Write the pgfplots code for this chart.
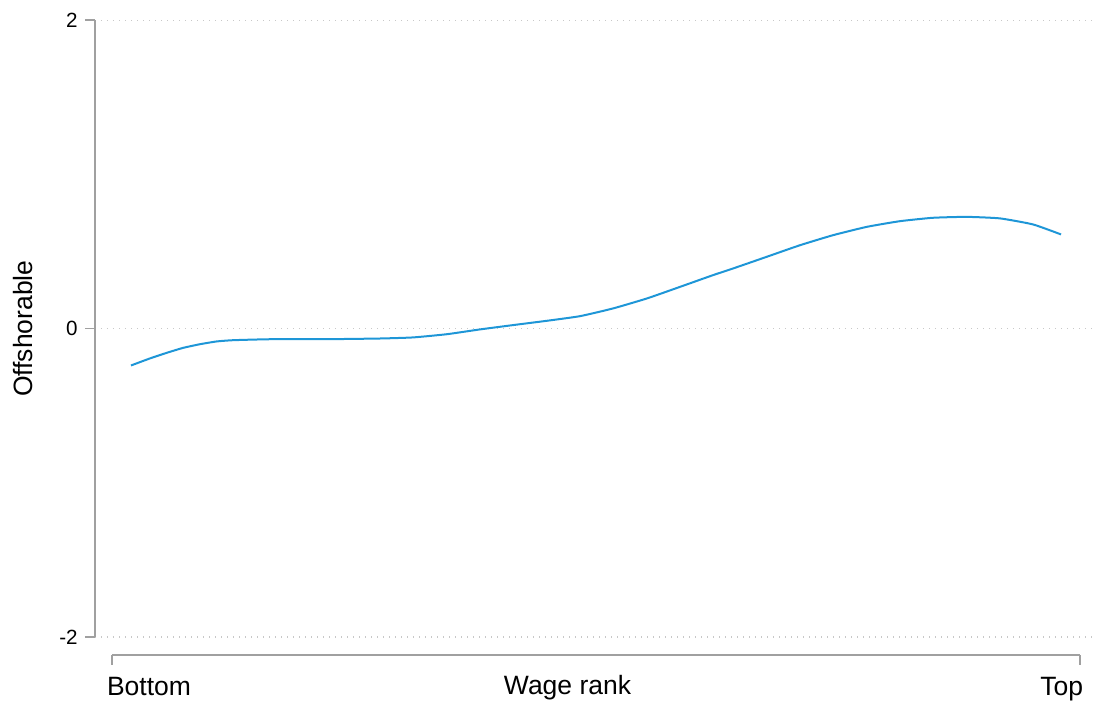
\documentclass[border=0pt]{standalone}
\usepackage{fontspec}
\setmainfont{Liberation Sans}
\usepackage{pgfplots}
\pgfplotsset{compat=1.18}
\definecolor{curveblue}{RGB}{30,150,215}
\definecolor{axgray}{RGB}{160,160,160}
\definecolor{gridgray}{RGB}{200,200,200}
\begin{document}
\begin{tikzpicture}
\path[use as bounding box] (0,0) rectangle (547.5pt,352pt);
\begin{axis}[
  at={(47.5pt,33.5pt)}, anchor=south west,
  scale only axis, width=500pt, height=308.35pt,
  xmin=-1.756, xmax=101.55, ymin=-2, ymax=2,
  axis x line=none, axis y line*=left,
  axis line style={axgray, line width=0.8pt},
  ytick={-2,0,2}, yticklabels={-2,0,2},
  tick align=outside, major tick length=5pt,
  tick style={axgray, line width=0.8pt},
  yticklabel style={font=\fontsize{10.3}{12}\selectfont, anchor=east, inner sep=0pt, xshift=-3.5pt},
  ymajorgrids, grid style={gridgray, line width=0.6pt, dash pattern=on 0.6pt off 2.4pt},
  ylabel={Offshorable},
  ylabel style={font=\fontsize{13.25}{16}\selectfont, at={(axis description cs:-0.072,0.5)}, anchor=center, rotate=0},
  clip=false,
]
\addplot[curveblue, line width=1pt, smooth, tension=0.3] coordinates {
(1.96,-0.239) (3.93,-0.193) (5.65,-0.157) (7.33,-0.125) (9.09,-0.101)
(10.82,-0.083) (12.5,-0.075) (15.98,-0.069) (19.42,-0.068) (22.83,-0.068)
(27.69,-0.064) (31.10,-0.057) (34.61,-0.036) (38.02,-0.005) (41.43,0.023)
(44.94,0.051) (48.35,0.081) (51.76,0.131) (55.27,0.196) (58.68,0.271)
(62.09,0.347) (64.15,0.390) (67.64,0.466) (71.07,0.541) (74.48,0.606)
(77.96,0.660) (81.40,0.697) (84.81,0.719) (88.30,0.725) (91.74,0.715)
(95.14,0.676) (98.04,0.611)
};
\end{axis}
\begin{axis}[
  at={(56pt,24.5pt)}, anchor=south west,
  scale only axis, width=484pt, height=10pt,
  xmin=0, xmax=100, ymin=0, ymax=1,
  axis y line=none, axis x line*=bottom,
  axis line style={axgray, line width=0.8pt},
  xtick={0,100}, xticklabels={\rlap{\hspace*{-2.5pt}Bottom},\llap{Top\hspace*{-1.5pt}}},
  tick align=outside, major tick length=5pt,
  tick style={axgray, line width=0.8pt},
  xticklabel style={font=\fontsize{13.25}{16}\selectfont, anchor=base, inner sep=0pt, yshift=-15.5pt},
  xlabel={Wage rank},
  xlabel style={font=\fontsize{13.25}{16}\selectfont, at={(axis description cs:0.4706,0)}, anchor=base, inner sep=0pt, yshift=-20pt},
]
\end{axis}
\end{tikzpicture}
\end{document}
